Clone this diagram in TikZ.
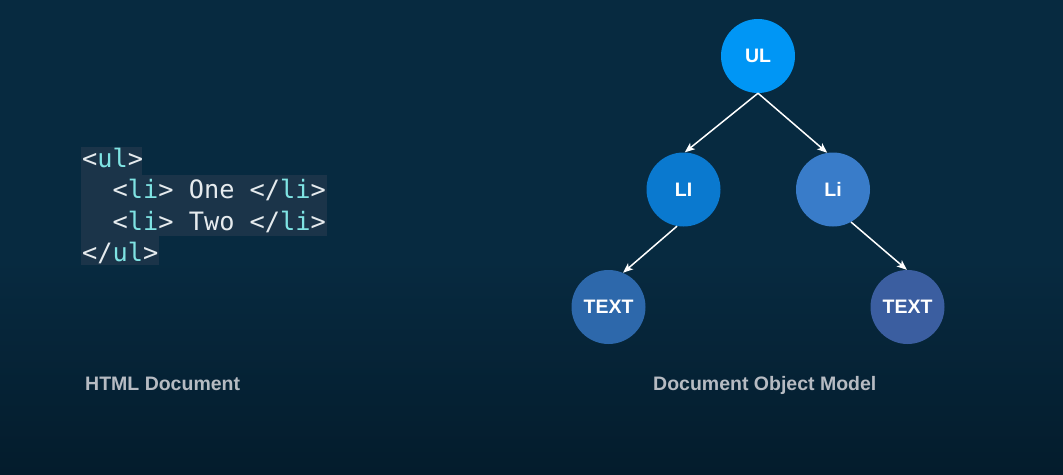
\documentclass[tikz,border=0pt]{standalone}
\usepackage{fontspec}
\setmainfont{Liberation Sans}
\newfontfamily\codefont{DejaVu Sans Mono}
\usetikzlibrary{arrows.meta}
\definecolor{bgtop}{HTML}{072A40}
\definecolor{bgbot}{HTML}{041C2C}
\definecolor{codebox}{HTML}{1B3449}
\definecolor{codecyan}{HTML}{7FE3E3}
\definecolor{codewhite}{HTML}{E6EBEE}
\definecolor{labelgray}{HTML}{B6BBC2}
\definecolor{cUL}{HTML}{0096F5}
\definecolor{cLI}{HTML}{0A79CF}
\definecolor{cLi}{HTML}{397CC9}
\definecolor{cTa}{HTML}{2D68AB}
\definecolor{cTb}{HTML}{3B5EA0}
\newcommand\ctag[1]{\textcolor{codecyan}{#1}}
\tikzset{
  domnode/.style={circle, minimum size=74pt, inner sep=0pt, text=white,
    font=\fontsize{19.5}{19.5}\selectfont\bfseries},
  codeline/.style={anchor=base west, inner sep=0pt, text=codewhite,
    font=\codefont\fontsize{25.3}{25.3}\selectfont},
  caption/.style={anchor=base west, inner sep=0pt, text=labelgray,
    font=\fontsize{19.5}{19.5}\selectfont\bfseries},
  link/.style={draw=white, line width=1.5pt,
    -{Stealth[length=10pt,width=8pt,inset=2.5pt]}}
}
\begin{document}
\begin{tikzpicture}[x=1pt,y=-1pt]
\useasboundingbox (0,0) rectangle (1063,474);
\fill[bgtop] (0,0) rectangle (1063,474);
\shade[top color=bgtop, bottom color=bgbot] (0,260) rectangle (1063,474);
% code highlight boxes
\fill[codebox] (81,147) rectangle (142,175);
\fill[codebox] (81,175) rectangle (327,236);
\fill[codebox] (81,236) rectangle (159,265);
% code lines
\node[codeline] (c1) at (82,167) {<\ctag{ul}>};
\node[codeline] (c2) at (82,198.5) {~~<\ctag{li}> One </\ctag{li}>};
\node[codeline] (c3) at (82,230) {~~<\ctag{li}> Two </\ctag{li}>};
\node[codeline] (c4) at (82,261.5) {</\ctag{ul}>};
% DOM tree
\node[domnode, fill=cUL] (ul) at (758,56) {UL};
\node[domnode, fill=cLI] (li1) at (683.5,189.5) {LI};
\node[domnode, fill=cLi] (li2) at (833,189.5) {Li};
\node[domnode, fill=cTa] (t1) at (608.5,307) {TEXT};
\node[domnode, fill=cTb] (t2) at (907.5,307) {TEXT};
\draw[link] (ul.south) -- (li1.88);
\draw[link] (ul.south) -- (li2.99);
\draw[link] (li1.-100) -- (t1.67);
\draw[link] (li2.-61) -- (t2.91);
% captions
\node[caption] (cap1) at (85,390) {HTML Document};
\node[caption] (cap2) at (653,390) {Document Object Model};
\end{tikzpicture}
\end{document}
